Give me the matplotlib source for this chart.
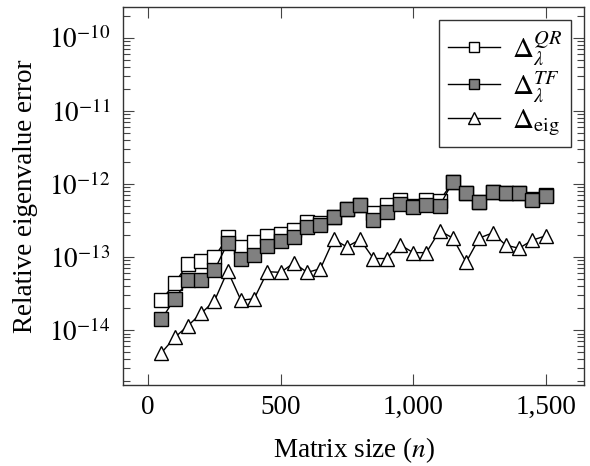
import math
import matplotlib
matplotlib.use('Agg')
import matplotlib.pyplot as plt
from matplotlib.ticker import LogLocator, FixedLocator, FuncFormatter, NullFormatter

plt.rcParams['font.family'] = ['Liberation Serif', 'DejaVu Serif']
plt.rcParams['mathtext.fontset'] = 'stix'

n = [50, 100, 150, 200, 250, 300, 350, 400, 450, 500, 550, 600, 650, 700, 750,
     800, 850, 900, 950, 1000, 1050, 1100, 1150, 1200, 1250, 1300, 1350, 1400, 1450, 1500]
qr = [2.57e-14, 4.37e-14, 8.13e-14, 8.7e-14, 1.0e-13, 1.86e-13, 1.38e-13, 1.62e-13, 1.95e-13, 2.09e-13,
      2.34e-13, 3.02e-13, 2.88e-13, 3.55e-13, 4.57e-13, 5.13e-13, 3.98e-13, 5.13e-13, 6.03e-13, 5.01e-13,
      6.03e-13, 5.89e-13, 1.07e-12, 7.41e-13, 5.75e-13, 7.85e-13, 7.59e-13, 7.41e-13, 6.17e-13, 7.0e-13]
tf = [1.40e-14, 2.69e-14, 4.79e-14, 4.79e-14, 6.61e-14, 1.55e-13, 9.55e-14, 1.07e-13, 1.41e-13, 1.66e-13,
      1.86e-13, 2.60e-13, 2.75e-13, 3.55e-13, 4.57e-13, 5.13e-13, 3.24e-13, 4.17e-13, 5.37e-13, 4.90e-13,
      5.13e-13, 5.01e-13, 1.07e-12, 7.41e-13, 5.75e-13, 7.85e-13, 7.59e-13, 7.41e-13, 6.03e-13, 6.84e-13]
eig = [4.90e-15, 7.94e-15, 1.15e-14, 1.70e-14, 2.51e-14, 6.46e-14, 2.57e-14, 2.69e-14, 6.31e-14, 6.17e-14,
       8.32e-14, 6.17e-14, 6.92e-14, 1.74e-13, 1.38e-13, 1.74e-13, 9.55e-14, 9.55e-14, 1.48e-13, 1.15e-13,
       1.15e-13, 2.29e-13, 1.82e-13, 8.51e-14, 1.82e-13, 2.14e-13, 1.45e-13, 1.32e-13, 1.70e-13, 1.95e-13]

x_ticks = [0, 500, 1000, 1500]
x_ticklabels = ['0', '500', '1,000', '1,500']
y_ticks = [1e-14, 1e-13, 1e-12, 1e-11, 1e-10]

fig = plt.figure(figsize=(5.9, 4.66), dpi=100)
ax = fig.add_axes([0.2085, 0.1738, 0.7813, 0.8112])

lw = 1.0
ax.plot(n, qr, '-', color='black', lw=lw, marker='s', ms=9.5, mfc='white', mec='black', mew=1.0,
        label=r'$\Delta_\lambda^{QR}$')
ax.plot(n, tf, '-', color='black', lw=lw, marker='s', ms=9.5, mfc='#808080', mec='black', mew=1.0,
        label=r'$\Delta_\lambda^{TF}$')
ax.plot(n, eig, '-', color='black', lw=lw, marker='^', ms=10, mfc='white', mec='black', mew=1.0,
        label=r'$\Delta_{\mathrm{eig}}$')

ax.set_yscale('log')
ax.set_xlim(-95, 1645)
ax.set_ylim(10**-14.75, 10**-9.58)
ax.xaxis.set_major_locator(FixedLocator(x_ticks))
ax.set_xticklabels(x_ticklabels)
ax.yaxis.set_major_locator(FixedLocator(y_ticks))
ax.yaxis.set_major_formatter(FuncFormatter(lambda v, p: r'$10^{%d}$' % round(math.log10(v))))
ax.yaxis.set_minor_locator(LogLocator(base=10, subs=range(2, 10), numticks=20))
ax.yaxis.set_minor_formatter(NullFormatter())

ax.tick_params(which='both', direction='in', top=True, right=True, width=0.8, labelsize=19.5, color='#444444')
ax.tick_params(which='major', length=8)
ax.tick_params(axis='x', which='major', pad=7)
ax.tick_params(axis='y', which='major', pad=9)
ax.tick_params(which='minor', length=5)
for s in ax.spines.values():
    s.set_linewidth(1.0)
    s.set_color('#333333')

ax.set_xlabel(r'Matrix size ($n$)', fontsize=19.5, labelpad=11)
ax.set_ylabel('Relative eigenvalue error', fontsize=19.5, labelpad=8)

leg = ax.legend(loc='upper right', fontsize=21, frameon=True, fancybox=False, handlelength=1.8,
                borderaxespad=0.45, labelspacing=0.1, handletextpad=0.4, borderpad=0.3, markerscale=0.8)
leg.get_frame().set_edgecolor('black')
leg.get_frame().set_linewidth(1.0)

fig.savefig('out.png', dpi=100)
